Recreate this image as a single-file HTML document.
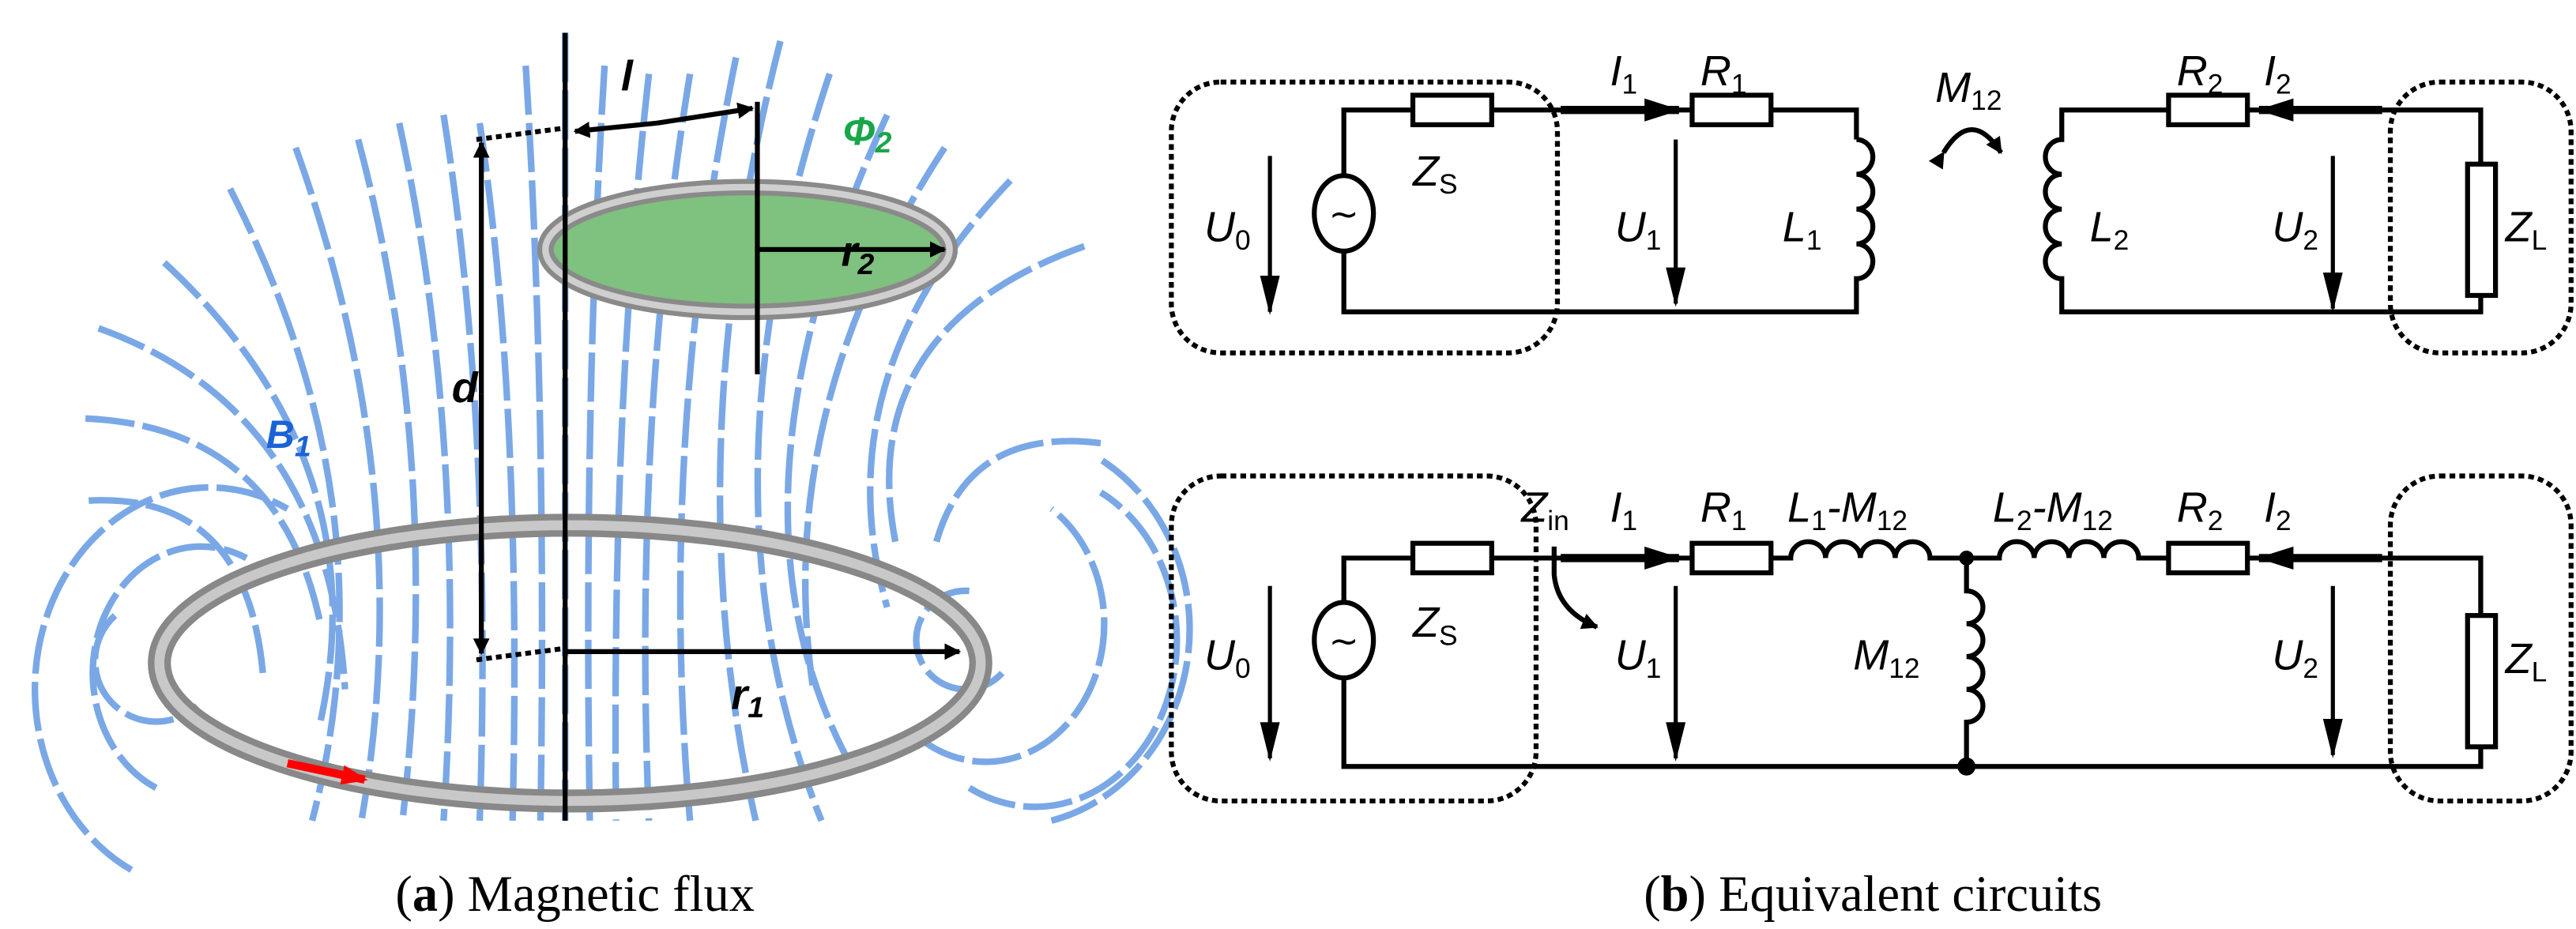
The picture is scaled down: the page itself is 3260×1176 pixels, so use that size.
<!DOCTYPE html>
<html><head><meta charset="utf-8"><style>
html,body{margin:0;padding:0;background:#fff;}
svg{display:block;}
.l{font-family:"Liberation Sans",sans-serif;font-style:italic;font-size:26px;fill:#000;}
.s{font-size:17px;font-style:normal;}
.w{stroke:#000;stroke-width:3;fill:none;}
.r{stroke:#000;stroke-width:3;fill:#fff;}
.d{stroke:#000;stroke-width:3;fill:none;stroke-dasharray:3.5 2.5;}
.f{stroke:#7aa8e6;stroke-width:4;fill:none;stroke-dasharray:30 5;}
.cap{font-family:"Liberation Serif",serif;font-size:31px;fill:#000;}
</style></head><body>
<svg width="3260" height="1176" viewBox="0 0 1568 566" preserveAspectRatio="none" xmlns="http://www.w3.org/2000/svg">
<defs>
<marker id="ah" markerWidth="10" markerHeight="10" refX="9" refY="5" orient="auto" markerUnits="userSpaceOnUse" viewBox="0 0 10 10"><path d="M0,0 L10,5 L0,10z"/></marker>
<marker id="ab" markerWidth="22" markerHeight="14" refX="21" refY="7" orient="auto" markerUnits="userSpaceOnUse" viewBox="0 0 22 14"><path d="M0,0 L22,7 L0,14z"/></marker>
<marker id="as" markerWidth="24" markerHeight="12" refX="22" refY="6" orient="auto" markerUnits="userSpaceOnUse" viewBox="0 0 24 12"><path d="M0,0 L24,6 L0,12z"/></marker>
<marker id="ar" markerWidth="16" markerHeight="12" refX="14" refY="6" orient="auto" markerUnits="userSpaceOnUse" viewBox="0 0 16 12"><path d="M0,0 L16,6 L0,12z" fill="red"/></marker>
</defs>

<g class="f">
<path d="M344,20 V500"/>
<path d="M368,40 Q355,250 359,500"/><path d="M320,40 Q333,250 329,500"/>
<path d="M395,45 Q372,250 375,500"/><path d="M292,75 Q318,250 312,500"/>
<path d="M420,45 Q385,260 395,500"/><path d="M270,70 Q300,260 292,500"/>
<path d="M448,35 Q400,270 420,500"/><path d="M243,75 Q285,270 270,500"/>
<path d="M475,25 Q410,280 460,500"/><path d="M218,85 Q270,280 245,500"/>
<path d="M505,45 Q420,300 500,500"/><path d="M180,90 Q255,300 220,500"/>
<path d="M540,70 Q430,310 520,470"/><path d="M140,115 Q240,310 190,500"/>
<path d="M575,90 Q470,250 495,420"/><path d="M100,160 Q230,280 195,440"/>
<path d="M615,110 Q500,230 540,370"/><path d="M60,200 Q200,250 210,420"/>
<path d="M660,150 Q520,200 545,330"/><path d="M52,255 Q170,260 195,380"/>
<path d="M54,305 Q150,300 160,410"/>
<path d="M670,270 Q590,260 570,330"/>
</g>
<g class="f">
<path d="M95,480 A60,70 0 1 1 150,340"/>
<path d="M80,530 A95,110 0 1 1 175,310"/>
<path d="M70,375 A35,35 0 1 0 120,430"/>
<path d="M590,360 A30,30 0 1 0 610,410"/>
<path d="M560,450 A60,70 0 1 0 640,310"/>
<path d="M590,480 A85,100 0 1 0 670,300"/>
<path d="M640,500 A110,120 0 0 0 670,280"/>
</g>
<ellipse cx="347" cy="404" rx="250" ry="84" fill="none" stroke="#888" stroke-width="14"/>
<ellipse cx="347" cy="404" rx="250" ry="84" fill="none" stroke="#c8c8c8" stroke-width="6"/>
<ellipse cx="455" cy="152" rx="123" ry="38" fill="#7fc17f" stroke="#8a8a8a" stroke-width="10"/>
<ellipse cx="455" cy="152" rx="123" ry="38" fill="none" stroke="#cfcfcf" stroke-width="4"/>
<line x1="344" y1="20" x2="344" y2="500" stroke="#000" stroke-width="3"/>
<line x1="461" y1="62" x2="461" y2="228" stroke="#000" stroke-width="3"/>
<line x1="461" y1="152" x2="575" y2="152" stroke="#000" stroke-width="3" marker-end="url(#ah)"/>
<line x1="344" y1="397" x2="584" y2="397" stroke="#000" stroke-width="3" marker-end="url(#ah)"/>
<line x1="400" y1="75" x2="350" y2="80" stroke="#000" stroke-width="3" marker-end="url(#ah)"/>
<line x1="400" y1="75" x2="458" y2="66" stroke="#000" stroke-width="3" marker-end="url(#ah)"/>
<line x1="293" y1="240" x2="293" y2="87" stroke="#000" stroke-width="3" marker-end="url(#ah)"/>
<line x1="293" y1="240" x2="293" y2="398" stroke="#000" stroke-width="3" marker-end="url(#ah)"/>
<line x1="290" y1="85" x2="344" y2="78" class="d"/>
<line x1="290" y1="402" x2="344" y2="395" class="d"/>
<line x1="175" y1="465" x2="222" y2="475" stroke="red" stroke-width="5" marker-end="url(#ar)"/>
<text x="378" y="55" class="l" style="font-weight:bold;font-size:26px">l</text>
<text x="275" y="245" class="l" style="font-weight:bold;font-size:26px">d</text>
<text x="512" y="162" class="l" style="font-weight:bold;font-size:26px">r<tspan font-size="18" dy="5">2</tspan></text>
<text x="445" y="432" class="l" style="font-weight:bold;font-size:26px">r<tspan font-size="18" dy="5">1</tspan></text>
<text x="513" y="88" class="l" style="font-weight:bold;font-size:24px;fill:#1aa54a">Φ<tspan font-size="18" dy="5">2</tspan></text>
<text x="162" y="273" class="l" style="font-weight:bold;font-size:24px;fill:#1a62d6">B<tspan font-size="18" dy="5">1</tspan></text>
<text x="350" y="555" class="cap" text-anchor="middle">(<tspan font-weight="bold">a</tspan>)  Magnetic flux</text>

<rect x="713" y="50" width="235" height="165" rx="30" class="d"/>
<rect x="1455" y="50" width="110" height="165" rx="30" class="d"/>
<path class="w" d="M818,108 V67 H1130 V85"/>
<path class="w" d="M1130,85 a10,10.6 0 0 1 0,21.2 a10,10.6 0 0 1 0,21.2 a10,10.6 0 0 1 0,21.2 a10,10.6 0 0 1 0,21.2 V190 H818 V152"/>
<ellipse cx="818" cy="130" rx="18" ry="23" class="r"/>
<text x="818" y="138" text-anchor="middle" style="font-family:'DejaVu Sans',sans-serif;font-size:22px">~</text>
<rect x="860" y="58" width="48" height="18" class="r"/>
<rect x="1030" y="58" width="48" height="18" class="r"/>
<line x1="950" y1="67" x2="1022" y2="67" stroke="#000" stroke-width="5" marker-end="url(#ab)"/>
<line x1="773" y1="95" x2="773" y2="190" stroke="#000" stroke-width="2.5" marker-end="url(#as)"/>
<line x1="1020" y1="85" x2="1020" y2="185" stroke="#000" stroke-width="2.5" marker-end="url(#as)"/>
<path class="w" d="M1510,100 V67 H1255 V85 a10,10.6 0 0 0 0,21.2 a10,10.6 0 0 0 0,21.2 a10,10.6 0 0 0 0,21.2 a10,10.6 0 0 0 0,21.2 V190 H1510 V180"/>
<rect x="1502" y="100" width="17" height="80" class="r"/>
<rect x="1320" y="58" width="48" height="18" class="r"/>
<line x1="1450" y1="67" x2="1375" y2="67" stroke="#000" stroke-width="5" marker-end="url(#ab)"/>
<line x1="1420" y1="95" x2="1420" y2="188" stroke="#000" stroke-width="2.5" marker-end="url(#as)"/>
<path d="M1183,93 Q1200,65 1218,93" class="w" marker-start="url(#ah)" marker-end="url(#ah)"/>
<text x="980" y="52" class="l">I<tspan class="s" dy="5">1</tspan></text>
<text x="1035" y="52" class="l">R<tspan class="s" dy="5">1</tspan></text>
<text x="1178" y="62" class="l">M<tspan class="s" dy="5">12</tspan></text>
<text x="1325" y="52" class="l">R<tspan class="s" dy="5">2</tspan></text>
<text x="1378" y="52" class="l">I<tspan class="s" dy="5">2</tspan></text>
<text x="860" y="113" class="l">Z<tspan class="s" dy="5">S</tspan></text>
<text x="733" y="147" class="l">U<tspan class="s" dy="5">0</tspan></text>
<text x="983" y="147" class="l">U<tspan class="s" dy="5">1</tspan></text>
<text x="1085" y="147" class="l">L<tspan class="s" dy="5">1</tspan></text>
<text x="1272" y="147" class="l">L<tspan class="s" dy="5">2</tspan></text>
<text x="1383" y="147" class="l">U<tspan class="s" dy="5">2</tspan></text>
<text x="1525" y="147" class="l">Z<tspan class="s" dy="5">L</tspan></text>

<rect x="713" y="290" width="222" height="198" rx="30" class="d"/>
<rect x="1455" y="290" width="110" height="198" rx="30" class="d"/>
<path class="w" d="M818,368 V340 H1090 a10.6,10 0 0 1 21.2,0 a10.6,10 0 0 1 21.2,0 a10.6,10 0 0 1 21.2,0 a10.6,10 0 0 1 21.2,0 H1217 a10.6,10 0 0 1 21.2,0 a10.6,10 0 0 1 21.2,0 a10.6,10 0 0 1 21.2,0 a10.6,10 0 0 1 21.2,0 H1510 V375"/>
<path class="w" d="M1197,340 V360 a10,10 0 0 1 0,20 a10,10 0 0 1 0,20 a10,10 0 0 1 0,20 a10,10 0 0 1 0,20 V467"/>
<path class="w" d="M1510,455 V467 H818 V412"/>
<circle cx="1197" cy="340" r="4.5"/><circle cx="1197" cy="467" r="5.5"/>
<ellipse cx="818" cy="390" rx="18" ry="23" class="r"/>
<text x="818" y="398" text-anchor="middle" style="font-family:'DejaVu Sans',sans-serif;font-size:22px">~</text>
<rect x="860" y="331" width="48" height="18" class="r"/>
<rect x="1030" y="331" width="48" height="18" class="r"/>
<rect x="1320" y="331" width="48" height="18" class="r"/>
<rect x="1502" y="375" width="17" height="80" class="r"/>
<line x1="950" y1="340" x2="1022" y2="340" stroke="#000" stroke-width="5" marker-end="url(#ab)"/>
<line x1="1450" y1="340" x2="1375" y2="340" stroke="#000" stroke-width="5" marker-end="url(#ab)"/>
<line x1="773" y1="357" x2="773" y2="462" stroke="#000" stroke-width="2.5" marker-end="url(#as)"/>
<line x1="1020" y1="357" x2="1020" y2="462" stroke="#000" stroke-width="2.5" marker-end="url(#as)"/>
<line x1="1420" y1="357" x2="1420" y2="460" stroke="#000" stroke-width="2.5" marker-end="url(#as)"/>
<path d="M946,333 V350 Q948,372 972,382" class="w" marker-end="url(#ah)"/>
<text x="926" y="318" class="l">Z<tspan class="s" dy="5">in</tspan></text>
<text x="980" y="318" class="l">I<tspan class="s" dy="5">1</tspan></text>
<text x="1035" y="318" class="l">R<tspan class="s" dy="5">1</tspan></text>
<text x="1088" y="318" class="l">L<tspan class="s" dy="5">1</tspan><tspan dy="-5">-M</tspan><tspan class="s" dy="5">12</tspan></text>
<text x="1213" y="318" class="l">L<tspan class="s" dy="5">2</tspan><tspan dy="-5">-M</tspan><tspan class="s" dy="5">12</tspan></text>
<text x="1325" y="318" class="l">R<tspan class="s" dy="5">2</tspan></text>
<text x="1378" y="318" class="l">I<tspan class="s" dy="5">2</tspan></text>
<text x="860" y="388" class="l">Z<tspan class="s" dy="5">S</tspan></text>
<text x="733" y="408" class="l">U<tspan class="s" dy="5">0</tspan></text>
<text x="983" y="408" class="l">U<tspan class="s" dy="5">1</tspan></text>
<text x="1128" y="408" class="l">M<tspan class="s" dy="5">12</tspan></text>
<text x="1383" y="408" class="l">U<tspan class="s" dy="5">2</tspan></text>
<text x="1525" y="410" class="l">Z<tspan class="s" dy="5">L</tspan></text>
<text x="1140" y="555" class="cap" text-anchor="middle">(<tspan font-weight="bold">b</tspan>)  Equivalent circuits</text>
</svg>
</body></html>
